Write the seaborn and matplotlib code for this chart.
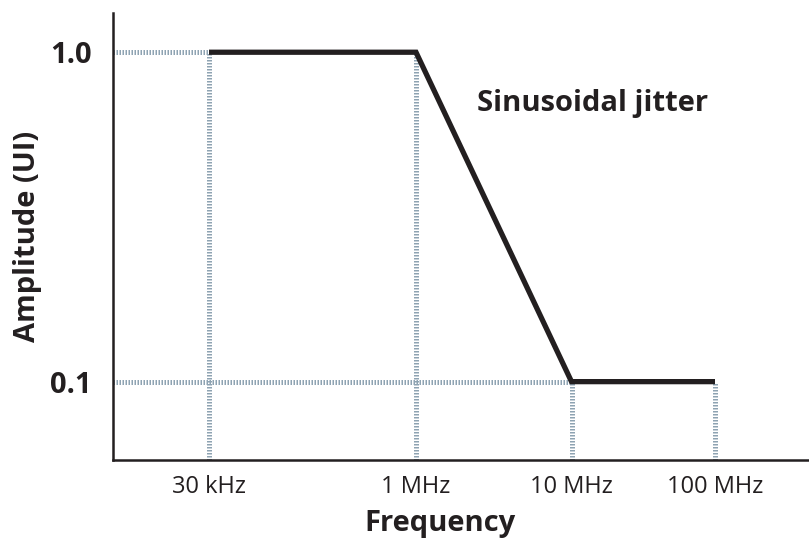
import numpy as np
import pandas as pd
import matplotlib
matplotlib.use("Agg")
import matplotlib.pyplot as plt
import seaborn as sns

# Data
freq_hz = [3e4, 1e6, 1e7, 1e8]
amplitude_ui = [1.0, 1.0, 0.1, 0.1]
tick_labels = ["30 kHz", "1 MHz", "10 MHz", "100 MHz"]
y_ticks = [0.1, 1.0]
y_tick_labels = ["0.1", "1.0"]

sns.set_theme(style="white")
plt.rcParams['font.family'] = ['Open Sans', 'DejaVu Sans']

# Axis spacing of the reference is uneven in log space: piecewise-log scale
kx = np.log10(np.array([1e-2, 3e4, 1e6, 1e7, 1e8, 1e14]))
s1 = 207 / (np.log10(1e6) - np.log10(3e4))
kp = np.array([209 - s1 * (np.log10(3e4) + 2), 209, 416, 571.5, 715, 715 + 143.5 * 6])

def fwd(x):
    x = np.asarray(x, dtype=float)
    with np.errstate(divide="ignore", invalid="ignore"):
        lx = np.log10(np.clip(x, 1e-2, None))
    return np.interp(lx, kx, kp)

def inv(p):
    p = np.asarray(p, dtype=float)
    return 10 ** np.interp(p, kp, kx)

df = pd.DataFrame({"freq": freq_hz, "amp": amplitude_ui})

fig = plt.figure(figsize=(8.09, 5.42), dpi=100)
ax = fig.add_axes([113 / 809, (542 - 459.5) / 542, (809 - 113) / 809, 447 / 542])
ax.set_xscale("function", functions=(fwd, inv))
ax.set_yscale("log")
ax.set_xlim(inv(113), inv(809))
ax.set_ylim(0.1 * 10 ** (-78 / 330), 10 ** (39.8 / 330))

grid_kw = dict(color="#8ea3b2", lw=3.6, linestyle=(0, (0.3, 0.3)), zorder=1,
               solid_capstyle="butt", dash_capstyle="butt")
ymin = ax.get_ylim()[0]
xmin = ax.get_xlim()[0]
for f, a in zip(freq_hz, amplitude_ui):
    ax.plot([f, f], [ymin, a], **grid_kw)
# horizontal guides to first point at each level
ax.plot([xmin, freq_hz[0]], [amplitude_ui[0], amplitude_ui[0]], **grid_kw)
ax.plot([xmin, freq_hz[2]], [amplitude_ui[2], amplitude_ui[2]], **grid_kw)

sns.lineplot(data=df, x="freq", y="amp", ax=ax, color="#231f20", lw=3.8,
             zorder=3, solid_joinstyle="miter", solid_capstyle="butt")

ax.set_xticks(freq_hz)
ax.set_xticklabels(tick_labels)
ax.minorticks_off()
ax.set_yticks(y_ticks)
ax.set_yticklabels(y_tick_labels)
ax.tick_params(axis="x", length=0, pad=11, labelsize=17, labelcolor="#231f20")
ax.tick_params(axis="y", length=0, pad=15.5, labelsize=21, labelcolor="#231f20")
for lab in ax.get_yticklabels():
    lab.set_fontweight("bold")

ax.set_xlabel("Frequency", fontsize=21, fontweight="bold", color="#231f20", labelpad=8)
ax.xaxis.set_label_coords((440 - 113) / 696, -0.0, transform=ax.transAxes)
ax.xaxis.label.set_verticalalignment("top")
ax.set_ylabel("Amplitude (UI)", fontsize=21, fontweight="bold", color="#231f20", labelpad=6)

ax.text(float(inv(477)), 0.70, "Sinusoidal jitter", fontsize=21, fontweight="bold",
        color="#231f20", ha="left", va="center")

for side in ["top", "right"]:
    ax.spines[side].set_visible(False)
for side in ["left", "bottom"]:
    ax.spines[side].set_color("#231f20")
    ax.spines[side].set_linewidth(1.8)
ax.grid(False)

# place the x label in pixels below the axis
ax.xaxis.set_label_coords((440 - 113) / 696, -(509 - 459.5) / 447)

fig.savefig("out.png", dpi=100)
